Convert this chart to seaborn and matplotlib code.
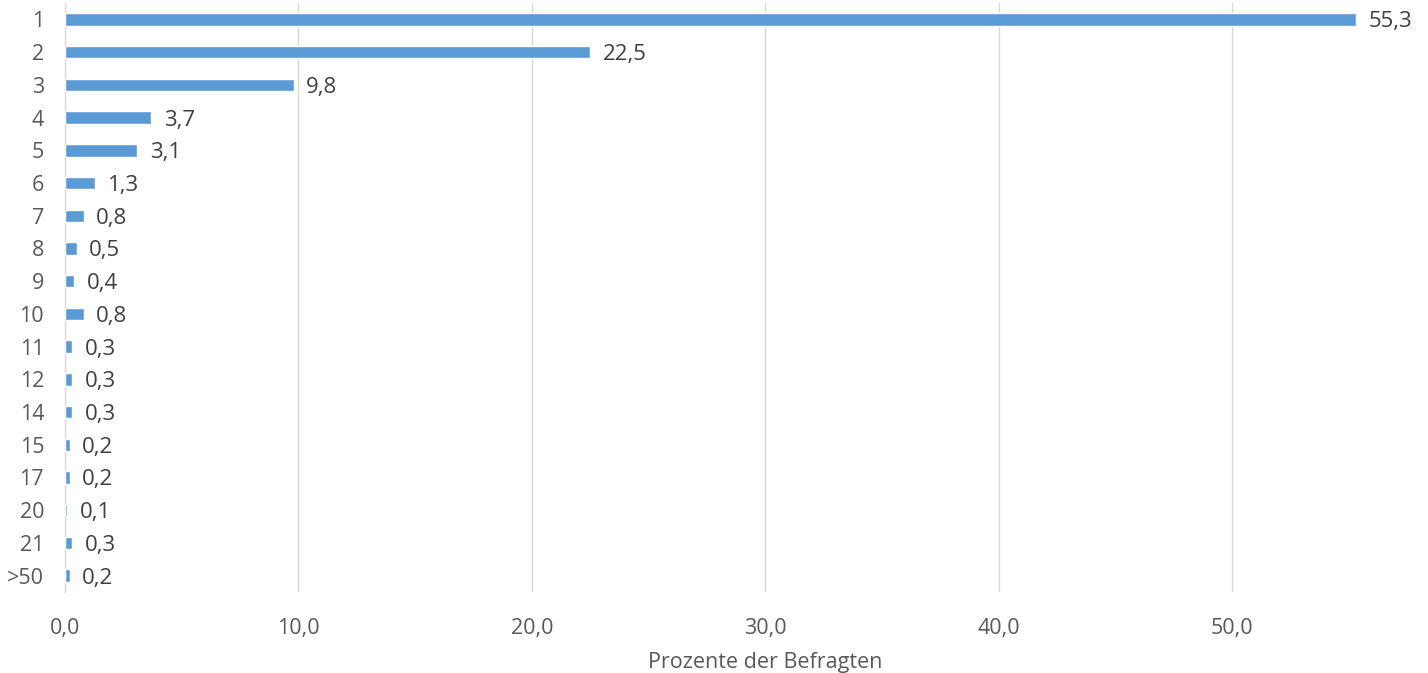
import matplotlib
matplotlib.use("Agg")
import matplotlib.pyplot as plt
import seaborn as sns
import pandas as pd

# Anzahl (Kategorien) und Prozent der Befragten
categories = ["1", "2", "3", "4", "5", "6", "7", "8", "9", "10",
              "11", "12", "14", "15", "17", "20", "21", ">50"]
percent = [55.3, 22.5, 9.8, 3.7, 3.1, 1.3, 0.8, 0.5, 0.4, 0.8,
           0.3, 0.3, 0.3, 0.2, 0.2, 0.1, 0.3, 0.2]
x_ticks = [0, 10, 20, 30, 40, 50]

df = pd.DataFrame({"kategorie": categories, "prozent": percent})

sns.set_theme(style="white")
plt.rcParams["font.family"] = ["Open Sans", "DejaVu Sans"]
text_color = "#595959"

fig = plt.figure(figsize=(14.28, 6.73), dpi=100)
ax = fig.add_axes([0.0455, 0.1204, 0.948, 0.875])

sns.barplot(data=df, x="prozent", y="kategorie", orient="h",
            color="#5B9BD5", saturation=1, width=0.38, ax=ax, zorder=3)

labels = ax.bar_label(ax.containers[0],
                      labels=[f"{v:.1f}".replace(".", ",") for v in percent],
                      padding=9, fontsize=16, color="#404040")
for t in labels:
    t.set_va("center_baseline")

ax.set_xlim(0, 58)
ax.set_ylim(len(categories) - 0.5, -0.5)
ax.set_xticks(x_ticks)
ax.set_xticklabels([f"{t:.1f}".replace(".", ",") for t in x_ticks])
ax.xaxis.grid(True, color="#d9d9d9", linewidth=1, zorder=0)
ax.set_axisbelow(True)

for side in ["top", "right", "bottom"]:
    ax.spines[side].set_visible(False)
ax.spines["left"].set_color("#d9d9d9")
ax.spines["left"].set_linewidth(1)

ax.tick_params(axis="x", length=0, pad=19, labelsize=15.5, labelcolor=text_color)
ax.tick_params(axis="y", length=0, pad=15, labelsize=15.5, labelcolor=text_color)

ax.set_ylabel("")
ax.set_xlabel("Prozente der Befragten", fontsize=15.5, color=text_color, labelpad=9)
# the original plot area runs to 60, so the title sits under the 30 line
ax.xaxis.label.set_x(30 / 58)

fig.savefig("out.png", dpi=100)
